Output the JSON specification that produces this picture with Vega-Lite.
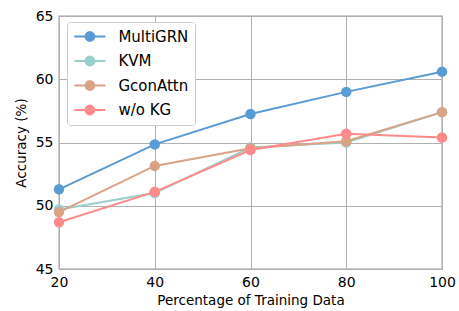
{
  "$schema": "https://vega.github.io/schema/vega-lite/v6.json",
  "width": 383,
  "height": 253,
  "autosize": "none",
  "padding": {"left": 59, "top": 16, "right": 17, "bottom": 42},
  "config": {
    "font": "DejaVu Sans",
    "view": {"stroke": "#bfbfbf", "strokeWidth": 1.5},
    "axis": {"grid": true, "gridColor": "#b0b0b0", "gridWidth": 1, "domain": false, "ticks": false, "labelFlush": false,
      "labelFontSize": 14, "labelColor": "#000", "titleFontSize": 13.5, "titleFontWeight": "normal", "titleColor": "#000", "labelPadding": 6}
  },
  "data": {"values": [
    {"pct": 20, "acc": 51.3, "model": "MultiGRN"},
    {"pct": 40, "acc": 54.85, "model": "MultiGRN"},
    {"pct": 60, "acc": 57.25, "model": "MultiGRN"},
    {"pct": 80, "acc": 59.0, "model": "MultiGRN"},
    {"pct": 100, "acc": 60.6, "model": "MultiGRN"},
    {"pct": 20, "acc": 49.7, "model": "KVM"},
    {"pct": 40, "acc": 51.0, "model": "KVM"},
    {"pct": 60, "acc": 54.6, "model": "KVM"},
    {"pct": 80, "acc": 55.0, "model": "KVM"},
    {"pct": 100, "acc": 57.4, "model": "KVM"},
    {"pct": 20, "acc": 49.5, "model": "GconAttn"},
    {"pct": 40, "acc": 53.15, "model": "GconAttn"},
    {"pct": 60, "acc": 54.55, "model": "GconAttn"},
    {"pct": 80, "acc": 55.1, "model": "GconAttn"},
    {"pct": 100, "acc": 57.4, "model": "GconAttn"},
    {"pct": 20, "acc": 48.7, "model": "w/o KG"},
    {"pct": 40, "acc": 51.1, "model": "w/o KG"},
    {"pct": 60, "acc": 54.4, "model": "w/o KG"},
    {"pct": 80, "acc": 55.7, "model": "w/o KG"},
    {"pct": 100, "acc": 55.4, "model": "w/o KG"}
  ]},
  "mark": {"type": "line", "strokeWidth": 2, "point": {"size": 110, "filled": true, "opacity": 1}},
  "encoding": {
    "x": {"field": "pct", "type": "quantitative", "title": "Percentage of Training Data",
      "scale": {"domain": [20, 100], "nice": false, "zero": false},
      "axis": {"values": [20, 40, 60, 80, 100], "titlePadding": 4}},
    "y": {"field": "acc", "type": "quantitative", "title": "Accuracy (%)",
      "scale": {"domain": [45, 65], "nice": false, "zero": false},
      "axis": {"values": [45, 50, 55, 60, 65], "titlePadding": 7}},
    "color": {"field": "model", "type": "nominal",
      "scale": {"domain": ["MultiGRN", "KVM", "GconAttn", "w/o KG"], "range": ["#5B9BD5", "#9ACFCD", "#D9A385", "#FF8A8A"]},
      "legend": {"title": null, "orient": "none", "legendX": 8, "legendY": 6, "labelFontSize": 15, "labelColor": "#000",
        "symbolType": "M-2.2,0L2.2,0M-0.62,0A0.62,0.62,0,1,1,0.62,0A0.62,0.62,0,1,1,-0.62,0Z",
        "symbolSize": 200, "symbolStrokeWidth": 2, "symbolOffset": 8.4, "labelOffset": 20, "rowPadding": 7.5,
        "fillColor": "white", "strokeColor": "#cccccc", "cornerRadius": 3, "padding": 6}
    },
    "order": {"field": "pct"}
  }
}
